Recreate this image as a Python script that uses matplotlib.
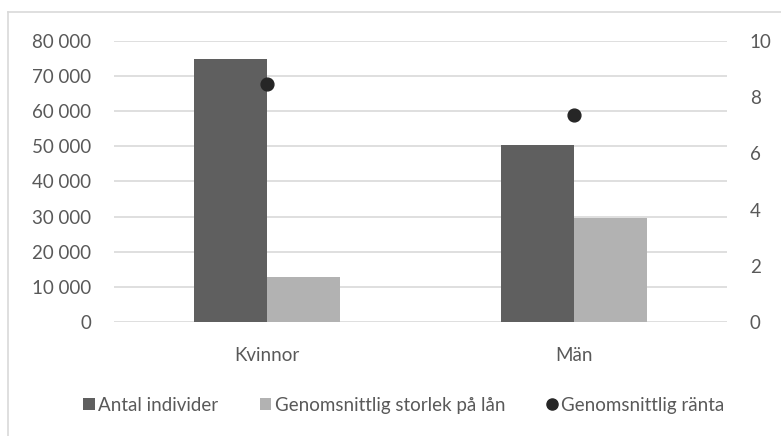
import numpy as np
import matplotlib.pyplot as plt
from matplotlib.lines import Line2D
from matplotlib.patches import Patch

# Data
categories = ["Kvinnor", "Män"]
antal_individer = [74900, 50400]
storlek_lan = [12800, 29600]
ranta = [8.47, 7.37]

left_ticks = [0, 10000, 20000, 30000, 40000, 50000, 60000, 70000, 80000]
right_ticks = [0, 2, 4, 6, 8, 10]

dark = "#5f5f5f"
light = "#b2b2b2"
dot = "#262626"
grid_c = "#d9d9d9"
text_c = "#595959"

plt.rcParams['font.family'] = ['Lato', 'DejaVu Sans']

fig = plt.figure(figsize=(7.81, 4.36), dpi=100)
W, H = 781, 436
ax = fig.add_axes([114 / W, 1 - 322 / H, (727 - 114) / W, (322 - 41) / H])
ax2 = ax.twinx()

x = np.arange(len(categories))
w = 0.238
ax.bar(x - w / 2, antal_individer, w, color=dark, zorder=2)
ax.bar(x + w / 2, storlek_lan, w, color=light, zorder=2)
ax2.scatter(x, ranta, s=85, color=dot, zorder=3)

ax.set_xlim(-0.5, 1.5)
ax.set_ylim(0, 80000)
ax2.set_ylim(0, 10)
ax.set_yticks(left_ticks)
ax.set_yticklabels([f"{v:,}".replace(",", " ") for v in left_ticks])
ax2.set_yticks(right_ticks)
ax.set_xticks(x)
ax.set_xticklabels(categories)

ax.grid(axis='y', color=grid_c, linewidth=1.2, zorder=0)
ax.set_axisbelow(True)
for a in (ax, ax2):
    for s in a.spines.values():
        s.set_visible(False)
    a.tick_params(length=0, labelsize=13.5, colors=text_c)
ax.tick_params(axis='y', pad=16.5)
ax2.tick_params(axis='y', pad=16.5)
ax.tick_params(axis='x', pad=18)

handles = [
    Patch(facecolor=dark, label="Antal individer"),
    Patch(facecolor=light, label="Genomsnittlig storlek på lån"),
    Line2D([], [], marker='o', linestyle='none', color=dot, markersize=8,
           label="Genomsnittlig ränta"),
]
fig.legend(handles=handles, loc='center', bbox_to_anchor=(404 / W, 1 - 405 / H),
           ncol=3, frameon=False, fontsize=13.5, labelcolor=text_c,
           handlelength=0.6, handleheight=0.6, handletextpad=0.2, columnspacing=2.2)

# chart frame (partly cropped in the reference)
fig.add_artist(Line2D([8 / W, 1], [1 - 12 / H, 1 - 12 / H], color=grid_c, linewidth=1.2))
fig.add_artist(Line2D([8 / W, 8 / W], [0, 1 - 12 / H], color=grid_c, linewidth=1.2))

fig.savefig("out.png", dpi=100)
